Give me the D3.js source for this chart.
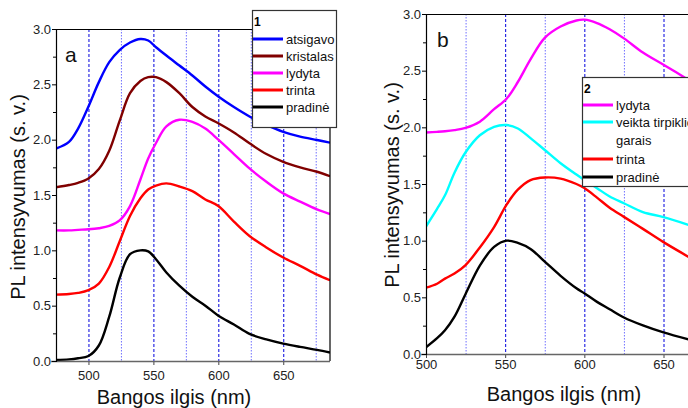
<!DOCTYPE html>
<html>
<head>
<meta charset="utf-8">
<script src="https://cdn.jsdelivr.net/npm/d3@7"></script>
<style>
  body { margin: 0; background: #fff; }
  svg { font-family: Arial, "Liberation Sans", sans-serif; }
</style>
</head>
<body>
<div id="grafica"></div>
<script>
// --- duomenys (a)
const bangosA = [475, 485, 492, 500, 508, 516, 524, 532, 540, 546, 552, 560, 570, 580, 590, 600, 612, 624, 637, 650, 663, 676, 686];
const atsigavoA = [1.92, 1.98, 2.10, 2.30, 2.52, 2.70, 2.81, 2.878, 2.91, 2.896, 2.835, 2.76, 2.67, 2.58, 2.48, 2.39, 2.295, 2.21, 2.133, 2.07, 2.027, 1.997, 1.973];
const kristalasA = [1.57, 1.59, 1.61, 1.65, 1.735, 1.90, 2.17, 2.42, 2.53, 2.565, 2.565, 2.52, 2.42, 2.295, 2.21, 2.148, 2.065, 1.967, 1.87, 1.80, 1.75, 1.71, 1.67];
const lydytaA = [1.18, 1.18, 1.185, 1.19, 1.20, 1.22, 1.27, 1.40, 1.64, 1.83, 1.97, 2.12, 2.18, 2.16, 2.10, 2.00, 1.87, 1.74, 1.62, 1.515, 1.44, 1.37, 1.328];
const trintaA = [0.60, 0.605, 0.615, 0.64, 0.70, 0.85, 1.08, 1.31, 1.47, 1.55, 1.585, 1.605, 1.577, 1.535, 1.46, 1.40, 1.26, 1.13, 1.026, 0.935, 0.86, 0.78, 0.73];
const pradineA = [0.01, 0.015, 0.025, 0.045, 0.14, 0.40, 0.75, 0.965, 1.0, 0.99, 0.92, 0.80, 0.68, 0.58, 0.50, 0.41, 0.33, 0.245, 0.195, 0.157, 0.127, 0.10, 0.076];

// --- duomenys (b)
const bangosB = [500, 507, 512, 518, 525, 534, 543, 551, 558, 566, 575, 585, 595, 600, 608, 616, 625, 637, 650, 668];
const lydytaB = [1.955, 1.96, 1.965, 1.975, 1.995, 2.05, 2.16, 2.255, 2.40, 2.60, 2.79, 2.89, 2.943, 2.95, 2.92, 2.865, 2.785, 2.66, 2.553, 2.40];
const veiktaB = [1.125, 1.28, 1.40, 1.60, 1.78, 1.93, 2.005, 2.02, 1.99, 1.905, 1.80, 1.683, 1.583, 1.535, 1.463, 1.39, 1.33, 1.252, 1.208, 1.13];
const trintaB = [0.585, 0.62, 0.665, 0.71, 0.785, 0.94, 1.12, 1.32, 1.45, 1.535, 1.558, 1.548, 1.50, 1.464, 1.38, 1.29, 1.21, 1.104, 0.987, 0.84];
const pradineB = [0.06, 0.14, 0.21, 0.33, 0.53, 0.78, 0.945, 1.0, 0.98, 0.927, 0.815, 0.69, 0.58, 0.536, 0.46, 0.395, 0.322, 0.252, 0.19, 0.12];

const yTicks = [0, 0.5, 1.0, 1.5, 2.0, 2.5, 3.0];
const yMinor = [0.25, 0.75, 1.25, 1.75, 2.25, 2.75];
const xTicks = [500, 550, 600, 650];
const gridMajor = [500, 550, 600, 650];
const gridMinor = [475, 525, 575, 625, 675];

const seriesA = [
  { name: 'atsigavo', color: '#0000ff', values: atsigavoA },
  { name: 'kristalas', color: '#800000', values: kristalasA },
  { name: 'lydyta', color: '#ff00ff', values: lydytaA },
  { name: 'trinta', color: '#ff0000', values: trintaA },
  { name: 'pradinė', color: '#000000', values: pradineA }
];
const seriesB = [
  { name: ['lydyta'], color: '#ff00ff', values: lydytaB },
  { name: ['veikta tirpiklio', 'garais'], color: '#00ffff', values: veiktaB },
  { name: ['trinta'], color: '#ff0000', values: trintaB },
  { name: ['pradinė'], color: '#000000', values: pradineB }
];

const svg = d3.select('#grafica')
              .append('svg')
              .attr('width', 688)
              .attr('height', 408);

function panel(cfg) {
  const x = d3.scaleLinear().domain(cfg.xDomain).range(cfg.xRange);
  const y = d3.scaleLinear().domain([0, 3]).range(cfg.yRange);
  const g = svg.append('g');
  const [x0, x1] = [cfg.xRange[0], Math.min(cfg.xRange[1], 688)];
  const [yb, yt] = cfg.yRange;

  g.append('clipPath').attr('id', cfg.id)
   .append('rect').attr('x', x0).attr('y', yt - 2).attr('width', x1 - x0).attr('height', yb - yt + 2);

  // tinklelis
  g.selectAll('.gmin').data(gridMinor.filter(d => x(d) >= x0 - 1 && x(d) <= x1)).enter()
   .append('line')
   .attr('x1', d => x(d) + 0.5).attr('x2', d => x(d) + 0.5)
   .attr('y1', yt).attr('y2', yb)
   .attr('stroke', '#6f6fff').attr('stroke-width', 1).attr('stroke-dasharray', '1.5,1.5');
  g.selectAll('.gmaj').data(gridMajor.filter(d => x(d) >= x0 && x(d) <= x1)).enter()
   .append('line')
   .attr('x1', d => x(d) + 0.5).attr('x2', d => x(d) + 0.5)
   .attr('y1', yt).attr('y2', yb)
   .attr('stroke', '#0000dd').attr('stroke-width', 1).attr('stroke-dasharray', '3,2');

  // kreivės
  const line = d3.line()
                 .x((d, i) => x(cfg.bangos[i]))
                 .y(d => y(d))
                 .curve(d3.curveCatmullRom.alpha(0.5));
  g.append('g').attr('clip-path', `url(#${cfg.id})`)
   .selectAll('path')
   .data(cfg.series.slice().reverse())
   .enter()
   .append('path')
   .attr('d', s => line(s.values))
   .attr('fill', 'none')
   .attr('stroke', s => s.color)
   .attr('stroke-width', 2.4)
   .attr('stroke-linejoin', 'round');

  // rėmas
  g.append('line').attr('x1', x0).attr('x2', x1).attr('y1', yt + 0.5).attr('y2', yt + 0.5)
   .attr('stroke', '#000').attr('stroke-width', 1.2);
  if (cfg.rightBorder) {
    g.append('line').attr('x1', x1).attr('x2', x1).attr('y1', yt).attr('y2', yb)
     .attr('stroke', '#000').attr('stroke-width', 1.2);
  }

  // ašys
  const xAxis = g.append('g')
                 .attr('transform', `translate(0,${yb})`)
                 .call(d3.axisBottom(x).tickValues(xTicks).tickSize(4).tickPadding(cfg.xPad));
  xAxis.select('.domain').remove();
  xAxis.append('line').attr('x1', x0 - 5).attr('x2', x1).attr('y1', 0.5).attr('y2', 0.5)
       .attr('stroke', '#666').attr('stroke-width', 1.6);
  xAxis.selectAll('.tick line').attr('stroke', '#444');
  xAxis.selectAll('text').attr('font-size', 13).attr('fill', '#222');

  const yAxis = g.append('g')
                 .attr('transform', `translate(${x0},0)`)
                 .call(d3.axisLeft(y).tickValues(yTicks).tickFormat(d3.format('.1f')).tickSize(4).tickPadding(1));
  yAxis.select('.domain').attr('stroke', '#000').attr('stroke-width', 1.2);
  yAxis.selectAll('text').attr('font-size', 13).attr('fill', '#222');
  g.append('g')
   .attr('transform', `translate(${x0},0)`)
   .call(d3.axisLeft(y).tickValues(yMinor).tickFormat('').tickSize(3))
   .select('.domain').remove();

  // pavadinimai
  g.append('text')
   .attr('x', cfg.xTitle[0]).attr('y', cfg.xTitle[1])
   .attr('text-anchor', 'middle').attr('font-size', 20).attr('fill', '#111')
   .text('Bangos ilgis (nm)');
  g.append('text')
   .attr('transform', `translate(${cfg.yTitle[0]},${cfg.yTitle[1]}) rotate(-90)`)
   .attr('text-anchor', 'middle').attr('font-size', 20).attr('fill', '#111')
   .text('PL intensyvumas (s. v.)');
  g.append('text')
   .attr('x', cfg.label[0]).attr('y', cfg.label[1])
   .attr('font-size', 21).attr('fill', '#111')
   .text(cfg.letter);

  // legenda
  const L = cfg.legend;
  const lg = g.append('g');
  lg.append('rect')
    .attr('x', L.x + 0.5).attr('y', L.y + 0.5).attr('width', L.w).attr('height', L.h)
    .attr('fill', '#fff').attr('stroke', '#333').attr('stroke-width', 1.2);
  lg.append('text')
    .attr('x', L.x + 2).attr('y', L.y + 16)
    .attr('font-size', 12).attr('font-weight', 'bold').attr('fill', '#000')
    .text(L.title);
  cfg.series.forEach((s, i) => {
    const ly = L.rows[i];
    lg.append('line')
      .attr('x1', L.x + 1).attr('x2', L.x + 31).attr('y1', ly).attr('y2', ly)
      .attr('stroke', s.color).attr('stroke-width', 3);
    const names = Array.isArray(s.name) ? s.name : [s.name];
    names.forEach((n, k) => {
      lg.append('text')
        .attr('x', L.x + 34).attr('y', ly + 4.5 + k * 18)
        .attr('font-size', 13).attr('fill', '#111')
        .text(n);
    });
  });
}

panel({
  id: 'clipA', letter: 'a',
  bangos: bangosA, series: seriesA,
  xDomain: [475, 686], xRange: [56, 330],
  yRange: [361, 29],
  xPad: 6, rightBorder: true,
  xTitle: [174, 404], yTitle: [25, 197], label: [65, 62],
  legend: { x: 252, y: 10, w: 84, h: 117, title: '1', rows: [39, 56, 73, 90, 107] }
});

panel({
  id: 'clipB', letter: 'b',
  bangos: bangosB, series: seriesB,
  xDomain: [500, 680], xRange: [426, 711],
  yRange: [354, 14],
  xPad: 2, rightBorder: false,
  xTitle: [564, 401], yTitle: [399, 185], label: [437, 47],
  legend: { x: 582, y: 77, w: 120, h: 109, title: '2', rows: [105, 122, 159, 177] }
});
</script>
</body>
</html>
